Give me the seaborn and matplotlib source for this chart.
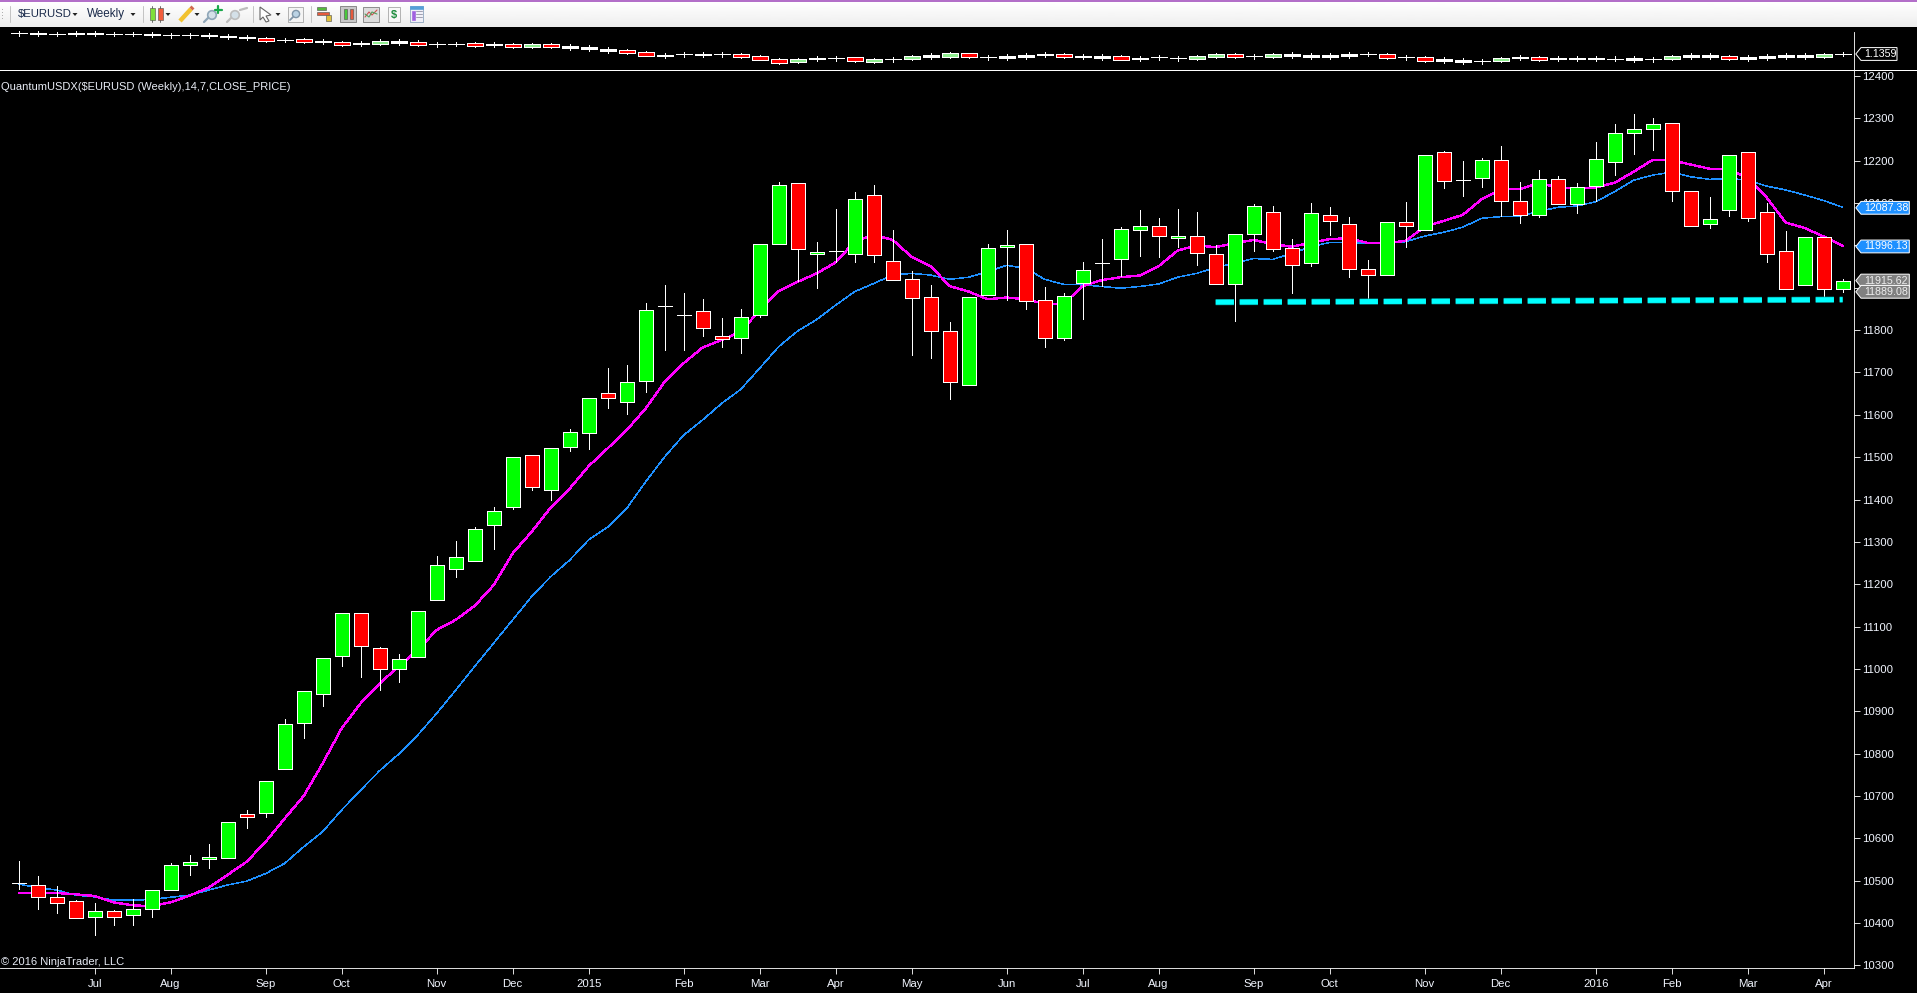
import numpy as np
import pandas as pd
import matplotlib
matplotlib.use("Agg")
import matplotlib.pyplot as plt
import matplotlib.patheffects as pe
from matplotlib.patches import Polygon, Rectangle
import seaborn as sns

# ---------- data ----------
opens = [10494,10491,10462,10451,10414,10428,10418,10433,10477,10536,10551,10553,10657,10659,10763,10872,10940,11030,11131,11049,
         10999,11028,11162,11235,11254,11339,11382,11506,11422,11523,11556,11652,11630,11679,11856,11835,11844,11785,11781,11835,
         12003,12147,11979,11988,11979,12118,11963,11920,11878,11797,11670,11882,11996,12003,11870,11781,11911,11958,11967,12036,
         12045,12017,12022,11979,11910,12026,12080,11993,11958,12073,12050,11944,11929,12055,12036,12220,12154,12158,12201,12104,
         12071,12156,12097,12140,12196,12265,12274,12288,12128,12050,12083,12220,12078,11988,11906,12019,11896]
highs = [10547,10511,10488,10455,10447,10431,10457,10477,10541,10561,10587,10638,10667,10736,10882,10947,11025,11131,11131,11051,
         11035,11138,11267,11302,11335,11382,11500,11506,11521,11567,11639,11710,11717,11864,11907,11888,11873,11828,11849,12003,
         12150,12147,12008,12085,12126,12143,12036,11940,11907,11819,11878,12003,12036,12003,11902,11887,11961,12015,12044,12084,
         12065,12086,12079,12001,12026,12098,12093,12014,12100,12091,12067,11966,12055,12103,12213,12223,12199,12206,12235,12149,
         12178,12164,12147,12244,12287,12310,12301,12288,12128,12114,12213,12220,12100,12034,12019,12019,11921]
lows = [10480,10434,10425,10411,10373,10396,10396,10415,10477,10514,10531,10553,10625,10651,10763,10838,10913,11008,10982,10951,
        10970,11028,11162,11216,11254,11284,11378,11423,11400,11515,11520,11615,11603,11655,11752,11754,11787,11759,11747,11830,
        12003,11917,11900,11962,11962,11962,11918,11742,11735,11638,11670,11882,11871,11851,11759,11777,11827,11904,11928,11976,
        11973,11996,11954,11908,11822,11988,11988,11888,11952,12025,11926,11871,11929,11997,12036,12136,12117,12138,12069,12053,
        12068,12097,12077,12106,12167,12216,12225,12105,12045,12041,12070,12058,11962,11896,11906,11877,11891]
closes = [10494,10461,10447,10411,10428,10414,10433,10477,10536,10545,10557,10638,10650,10736,10869,10947,11025,11131,11054,10999,
          11023,11138,11245,11264,11331,11372,11500,11429,11521,11559,11639,11639,11677,11847,11856,11835,11804,11780,11830,12003,
          12142,11991,11984,11988,12109,11977,11918,11875,11797,11677,11878,11993,12000,11868,11781,11880,11941,11958,12038,12045,
          12022,12022,11981,11908,12026,12092,11991,11953,12076,12057,11944,11929,12055,12045,12213,12151,12154,12201,12106,12073,
          12156,12097,12137,12203,12265,12276,12286,12128,12045,12062,12213,12064,11979,11896,12019,11896,11916]
ma_fast = [10471,10471,10471,10468,10464,10449,10442,10440,10449,10465,10484,10514,10545,10592,10647,10700,10777,10860,10919,10966,
           11006,11045,11092,11116,11149,11198,11273,11324,11381,11426,11479,11521,11564,11615,11678,11722,11759,11777,11796,11847,
           11892,11914,11934,11960,12009,12025,12013,11973,11951,11904,11891,11873,11877,11873,11862,11862,11904,11918,11925,11929,
           11951,11988,12000,11996,12005,12013,12003,11997,12006,12015,12017,12006,12005,12011,12044,12058,12072,12109,12132,12133,
           12147,12137,12135,12137,12148,12174,12202,12201,12191,12181,12181,12158,12113,12054,12041,12021,11999]
ma_slow = [10492,10484,10478,10466,10462,10454,10454,10456,10461,10466,10478,10490,10499,10517,10541,10580,10616,10667,10714,10760,
           10799,10844,10895,10950,11006,11061,11116,11171,11218,11257,11305,11335,11379,11442,11501,11552,11588,11627,11660,11710,
           11761,11798,11825,11859,11891,11910,11930,11934,11930,11920,11925,11938,11953,11946,11920,11908,11907,11903,11899,11903,
           11909,11925,11934,11948,11958,11969,11967,11981,11997,12007,12007,12005,12005,12009,12022,12031,12043,12064,12068,12069,
           12080,12090,12093,12103,12127,12154,12166,12173,12162,12156,12158,12154,12140,12131,12119,12106,12090]
support_index = [63, 96]
support_level = [11866, 11872]

mini_mid = [1.3591,1.3555,1.3519,1.3555,1.3555,1.3519,1.3519,1.3447,1.3375,1.3375,1.3339,1.3231,1.3123,1.2943,1.2871,1.2835,
            1.2691,1.2511,1.2475,1.2655,1.2655,1.2547,1.2403,1.2439,1.2403,1.2367,1.2295,1.2295,1.2295,1.2115,1.2007,1.1791,
            1.1647,1.1395,1.1179,1.1323,1.1287,1.1323,1.1215,1.0963,1.0603,1.0639,1.0855,1.0891,1.0783,1.0675,1.0783,1.0963,
            1.1143,1.1251,1.1215,1.0999,1.1035,1.1143,1.1287,1.1215,1.1071,1.1035,1.0963,1.0855,1.0999,1.0891,1.0999,1.1215,
            1.1215,1.1107,1.1215,1.1251,1.1143,1.1143,1.1251,1.1359,1.1143,1.0999,1.0819,1.0711,1.0603,1.0567,1.0747,1.0963,
            1.0891,1.0855,1.0855,1.0855,1.0855,1.0819,1.0783,1.0963,1.1143,1.1143,1.0999,1.0927,1.1035,1.1143,1.1143,1.1215,1.1359]
mini_kind = list("dwdwwddwddwwwrdrwrwgwrddrw"
                 "rgrwwwrRwdwdrRRgwdRgdGwGRdwwwrwwRwddggrdgwwwwdRdRwwdGwrwwwdwdgwwrwwwwgd")
month_index = [4,8,13,17,22,26,30,35,39,43,47,52,56,60,65,69,74,78,83,87,91,95]
month_label = ["Jul","Aug","Sep","Oct","Nov","Dec","2015","Feb","Mar","Apr","May","Jun","Jul","Aug","Sep","Oct","Nov","Dec","2016","Feb","Mar","Apr"]
price_ticks = list(range(10300, 12500, 100))
covered_labels = {12000, 11900}
tag_values = [(12087.38,"#1E90FF"),(11996.13,"#1E90FF"),(11915.62,"#808080"),(11889.08,"#808080")]
mini_last = 1.1359

# ---------- figure ----------
W, H = 1917, 993
sns.set_theme(style="dark", rc={"axes.facecolor":"black","figure.facecolor":"black","savefig.facecolor":"black",
                                "axes.grid":False,"xtick.bottom":True,"ytick.right":True,"ytick.left":False})
plt.rcParams["font.family"] = ["Liberation Sans","DejaVu Sans"]
fig = plt.figure(figsize=(W/100,H/100), dpi=100)
PX = 0.72
EDGE = 0.85*PX
AX_R, MAIN_T, MAIN_B, MINI_T = 1854.3, 69.5, 968.3, 27.0
main = fig.add_axes([0,(H-MAIN_B)/H,AX_R/W,(MAIN_B-MAIN_T)/H])
mini = fig.add_axes([0,(H-MAIN_T)/H,AX_R/W,(MAIN_T-MINI_T)/H])
idx = np.arange(len(closes))
xl = (-18.67/19, (AX_R-18.67)/19)

df = pd.DataFrame({"i":idx,"fast":ma_fast,"slow":ma_slow})
sns.lineplot(data=df,x="i",y="slow",ax=main,color="#1E90FF",lw=0.5*PX,zorder=2,antialiased=False)
sns.lineplot(data=df,x="i",y="fast",ax=main,color="#FF00FF",lw=1.35*PX,zorder=2.1,antialiased=False)

GREEN, RED = "#00FF00", "#FF0000"
o, h, l, c = map(np.array,(opens,highs,lows,closes))
main.vlines(idx,l,h,color="white",lw=EDGE,zorder=3,antialiased=False)
cols = np.where(c>o,GREEN,RED)
main.bar(idx,np.abs(c-o),bottom=np.minimum(o,c),width=14/19,color=cols,edgecolor="white",linewidth=EDGE,zorder=4,antialiased=False)

# support line
main.plot(support_index,support_level,color="#00FFFF",lw=5*PX,dashes=(18.3/5,5.7/5),dash_capstyle="butt",zorder=5,
          path_effects=[pe.Stroke(linewidth=6.2*PX,foreground="#008080"),pe.Normal()])

main.set_xlim(*xl)
main.set_ylim(12400-(MAIN_B-76)*2.361, 12400+(76-MAIN_T)*2.361)
main.yaxis.tick_right()
main.set_yticks(price_ticks)
main.set_yticklabels(["" if t in covered_labels else str(t) for t in price_ticks])
main.set_xticks(month_index)
main.set_xticklabels(month_label)
main.set_xlabel(""); main.set_ylabel("")
main.tick_params(axis="both",colors="white",length=6*PX,width=EDGE,labelsize=8.2,labelcolor="#F2F6FF")
main.tick_params(axis="y",pad=1.5*PX)
main.tick_params(axis="x",pad=5*PX)
for s in ["left","top"]:
    main.spines[s].set_visible(False)
for s in ["right","bottom"]:
    main.spines[s].set_color("white"); main.spines[s].set_linewidth(EDGE)

# mini pane
body_px = {"d":0.0,"w":1.6,"g":3.0,"r":3.0,"G":3.6,"R":4.2}
fill = {"d":"white","w":"white","g":"#90EE90","r":RED,"G":"#90EE90","R":RED}
SC = 0.0108
mm = np.array(mini_mid)
hts = np.array([body_px[k]*SC for k in mini_kind])
wick = np.array([2.2*SC if k=="d" else (2.6*SC) for k in mini_kind])
mini.vlines(idx,mm-wick,mm+wick,color="white",lw=EDGE,zorder=2,antialiased=False)
mini.bar(idx,hts,bottom=mm-hts/2,width=16/19,color=[fill[k] for k in mini_kind],edgecolor="white",linewidth=EDGE,zorder=3,antialiased=False)
mini.set_xlim(*xl)
mini.set_ylim(1.7191-MAIN_T*SC, 1.7191-MINI_T*SC)
mini.set_xticks([]); mini.set_yticks([])
for s in mini.spines.values():
    s.set_visible(False)
mini.spines["right"].set_visible(True); mini.spines["right"].set_color("white"); mini.spines["right"].set_linewidth(EDGE)
mini.spines["right"].set_bounds(1.7191-MAIN_T*SC, 1.7191-32*SC)

# ---------- overlay in pixel units ----------
ov = fig.add_axes([0,0,1,1],facecolor="none")
ov.set_xlim(0,W); ov.set_ylim(H,0); ov.axis("off")
ov.imshow(np.linspace(1,0.93,30)[:,None],extent=(0,W,27,2),aspect="auto",cmap="gray",vmin=0,vmax=1,zorder=1)
ov.set_xlim(0,W); ov.set_ylim(H,0)
ov.add_patch(Rectangle((0,0),W,2,color="#B36FC9",lw=0,zorder=2))
ov.plot([0,W],[69.5,69.5],color="white",lw=EDGE,zorder=3,antialiased=False)

def ptext(x,y,s,color="white",size=8.0,ha="left"):
    ov.text(x,y,s,color=color,fontsize=size,ha=ha,va="center",zorder=9)
ptext(1,87.5,"QuantumUSDX($EURUSD (Weekly),14,7,CLOSE_PRICE)",color="#E8ECF5",size=8.0)
ptext(1,962.3,"© 2016 NinjaTrader, LLC",color="#E8ECF5",size=8.0)

def price_y(p):
    return H-main.transData.transform((0,p))[1]
def tag(yc,x_r,face,s,tcol="white"):
    xs=[1855.8,1861,x_r,x_r,1861]; ys=[yc,yc-6.4,yc-6.4,yc+6.4,yc+6.4]
    ov.add_patch(Polygon(np.c_[xs,ys],closed=True,fc=face,ec="white",lw=1.0*PX,zorder=6))
    ov.text(1864,yc,s,color=tcol,fontsize=7.7,va="center",ha="left",zorder=7)
for v,col in tag_values:
    tag(price_y(v)-0.6,1909.3,col,f"{v:.2f}","white" if col!="#808080" else "#EDEDED")
tag(54,1897,"black",f"{mini_last:.4f}")

# toolbar
TB="#1a2a4a"
ptext(18,14,"$EURUSD",color=TB,size=8.2)
ptext(87,14,"Weekly",color=TB,size=8.4)
def tri(x):
    ov.add_patch(Polygon([[x-2.5,13],[x+2.5,13],[x,16]],fc="#222222",ec="none",zorder=5))
def sep(x):
    ov.plot([x,x],[6,22],color="#C4C4C4",lw=1.0*PX,zorder=4)
def box(x,y,w,hh,fc,ec="#555555"):
    ov.add_patch(Rectangle((x,y),w,hh,fc=fc,ec=ec,lw=0.6*PX,zorder=4))
for yy in (9,12,15,18):
    ov.add_patch(Rectangle((1.5,yy),1.6,1.4,fc="#B0B0B0",ec="none",zorder=4))
for x in (75,133,168,197,278):
    tri(x)
for x in (10,143,253,311):
    sep(x)
box(150,8,4.5,12,"#7FE03A"); box(158,8,4.5,12,"#F25C3C")
ov.plot([152,152],[6,22],color="#555555",lw=0.6,zorder=3); ov.plot([160,160],[6,22],color="#555555",lw=0.6,zorder=3)
ov.plot([180,191],[21,9],color="#F2C230",lw=3.2,zorder=4,solid_capstyle="butt")
ov.plot([191,193],[9,7],color="#D06A50",lw=3,zorder=4,solid_capstyle="butt")
for xc,cc in ((212,"#8FA6B8"),(235,"#BDBDBD")):
    ov.add_patch(plt.Circle((xc,15),4.3,fc="#D4E0E8",ec=cc,lw=1.2,zorder=4))
    ov.plot([xc-4,xc-8],[18,22],color=cc,lw=1.6,zorder=4)
ov.plot([218,218],[6,13],color="#19A84A",lw=1.6,zorder=5); ov.plot([214.5,221.5],[9.5,9.5],color="#19A84A",lw=1.6,zorder=5)
ov.plot([240,247],[10,8],color="#BDBDBD",lw=1.6,zorder=5)
ov.add_patch(Polygon([[260,7],[271,15],[266,16],[269,21],[266,22],[263,17],[260,20]],fc="white",ec="#666666",lw=0.8,zorder=4))
box(288,7,15,15,"#F4F4F4","#888888")
ov.add_patch(plt.Circle((296,14),3.6,fc="#BBD3E5",ec="#7F95A8",lw=1,zorder=5))
ov.plot([293,290],[17,20],color="#7F95A8",lw=1.3,zorder=5)
box(317,7,9,3.4,"#55B83C"); box(317,12,12,3,"#E65A3C"); box(326,15,5,6,"#E0C03C")
box(340,6,16,16,"#C8C8C8"); box(344,9,3,10,"#4AC83C"); box(350,9,3,10,"#E65A3C")
box(363,7,16,15,"#DDDDDD"); ov.plot([365,369,372,377],[17,12,15,10],color="#D05050",lw=0.8,zorder=5)
ov.plot([365,369,372,377],[14,17,12,14],color="#50A060",lw=0.8,zorder=5)
box(388,7,12,15,"#F8F8F8","#888888")
ov.text(394,15,"$",color="#1C8C3C",fontsize=8,ha="center",va="center",weight="bold",zorder=5)
box(410,6,13,16,"#F0F0F8","#6A8AAA"); box(410,6,13,3,"#55A0D8","#55A0D8"); box(412,11,3,9,"#A060E0","#A060E0")
for yy in (11,14,17):
    ov.plot([416,422],[yy,yy],color="#A0A0B0",lw=0.7,zorder=5)

fig.savefig("out.png",dpi=100,facecolor="black")
